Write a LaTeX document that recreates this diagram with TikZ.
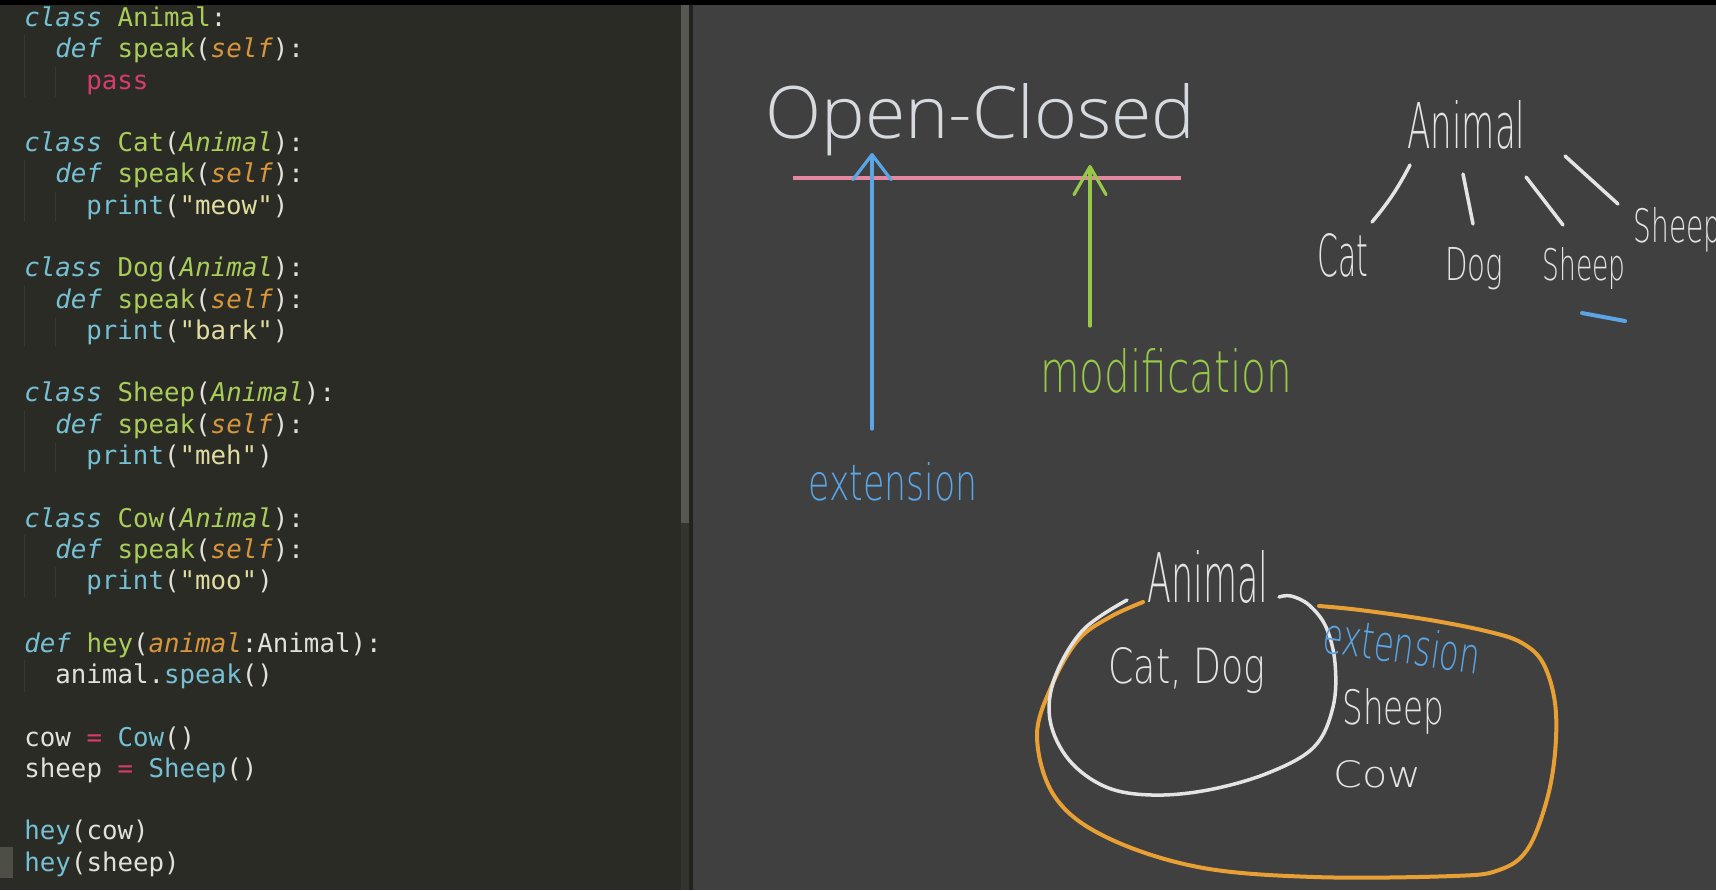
\documentclass[tikz,border=0pt]{standalone}
\usepackage{fontspec}
\setmonofont{DejaVu Sans Mono}
\newfontfamily\titlefont{Open Sans Light}
\newfontfamily\handfont{DejaVu Sans ExtraLight}
\usepackage{xcolor}
\usepackage{tikz}
\usetikzlibrary{arrows.meta,positioning}

\definecolor{editorbg}{RGB}{43,43,38}
\definecolor{boardbg}{RGB}{64,64,64}
\definecolor{scrollthumb}{RGB}{88,88,82}
\definecolor{scrolltrack}{RGB}{52,52,47}
\definecolor{panedark}{RGB}{34,34,31}
\definecolor{guidegrey}{RGB}{56,56,50}
\definecolor{cursorgrey}{RGB}{78,78,70}
\definecolor{kwblue}{RGB}{118,192,212}
\definecolor{namegreen}{RGB}{170,205,90}
\definecolor{selforange}{RGB}{215,150,60}
\definecolor{passpink}{RGB}{215,60,110}
\definecolor{stryellow}{RGB}{225,220,160}
\definecolor{codewhite}{RGB}{225,225,218}
\definecolor{titlegrey}{RGB}{214,218,222}
\definecolor{chalk}{RGB}{228,228,228}
\definecolor{penblue}{RGB}{90,165,230}
\definecolor{pengreen}{RGB}{152,200,72}
\definecolor{penorange}{RGB}{232,160,52}
\definecolor{penpink}{RGB}{228,135,160}

\newcommand{\codekw}[1]{{\color{kwblue}\itshape #1}}
\newcommand{\codename}[1]{{\color{namegreen}#1}}
\newcommand{\codeparent}[1]{{\color{namegreen}\itshape #1}}
\newcommand{\codeself}[1]{{\color{selforange}\itshape #1}}
\newcommand{\codepink}[1]{{\color{passpink}#1}}
\newcommand{\codecall}[1]{{\color{kwblue}#1}}
\newcommand{\codestr}[1]{{\color{stryellow}#1}}
\newcommand{\handfit}[3]{\resizebox{#1}{#2}{\handfont #3}}

\begin{document}
\begin{tikzpicture}[
  x=0.5pt, y=-0.5pt,
  codeline/.style={anchor=base west, inner sep=0pt,
    font=\ttfamily\fontsize{12.9}{15}\selectfont, text=codewhite},
  handbox/.style={anchor=base west, inner sep=0pt},
  chalkpen/.style={draw=chalk, line width=1.75pt, line cap=round, line join=round},
  bluepen/.style={draw=penblue, line width=1.6pt, line cap=round, line join=round},
  greenpen/.style={draw=pengreen, line width=1.6pt, line cap=round, line join=round},
  orangepen/.style={draw=penorange, line width=2pt, line cap=round, line join=round},
  pinkpen/.style={draw=penpink, line width=2.2pt}
]
\useasboundingbox (0,0) rectangle (1716,890);
\clip (0,0) rectangle (1716,890);

% editor and board panes
\fill[black] (0,0) rectangle (1716,890);
\fill[editorbg] (0,5) rectangle (681,890);
\fill[scrollthumb] (681,5) rectangle (689,523);
\fill[scrolltrack] (681,523) rectangle (689,890);
\fill[panedark] (689,5) rectangle (693,890);
\fill[boardbg] (693,5) rectangle (1716,890);
\fill[cursorgrey] (0,847) rectangle (13,878);

% indent guides
\foreach \b in {26.5,151.6,276.7,401.9,527.0} {
  \draw[guidegrey, line width=0.5pt] (24,\b+8) -- (24,\b+70);
  \draw[guidegrey, line width=0.5pt] (55,\b+40) -- (55,\b+70);
}
\draw[guidegrey, line width=0.5pt] (24,660) -- (24,692);

% code
\node[codeline] (ln1)  at (24,26.5)  {\codekw{class} \codename{Animal}:};
\node[codeline] (ln2)  at (55,57.8)  {\codekw{def} \codename{speak}(\codeself{self}):};
\node[codeline] (ln3)  at (86,89.1)  {\codepink{pass}};
\node[codeline] (ln5)  at (24,151.6) {\codekw{class} \codename{Cat}(\codeparent{Animal}):};
\node[codeline] (ln6)  at (55,182.9) {\codekw{def} \codename{speak}(\codeself{self}):};
\node[codeline] (ln7)  at (86,214.2) {\codecall{print}(\codestr{"meow"})};
\node[codeline] (ln9)  at (24,276.7) {\codekw{class} \codename{Dog}(\codeparent{Animal}):};
\node[codeline] (ln10) at (55,308.0) {\codekw{def} \codename{speak}(\codeself{self}):};
\node[codeline] (ln11) at (86,339.3) {\codecall{print}(\codestr{"bark"})};
\node[codeline] (ln13) at (24,401.9) {\codekw{class} \codename{Sheep}(\codeparent{Animal}):};
\node[codeline] (ln14) at (55,433.2) {\codekw{def} \codename{speak}(\codeself{self}):};
\node[codeline] (ln15) at (86,464.5) {\codecall{print}(\codestr{"meh"})};
\node[codeline] (ln17) at (24,527.0) {\codekw{class} \codename{Cow}(\codeparent{Animal}):};
\node[codeline] (ln18) at (55,558.3) {\codekw{def} \codename{speak}(\codeself{self}):};
\node[codeline] (ln19) at (86,589.6) {\codecall{print}(\codestr{"moo"})};
\node[codeline] (ln21) at (24,652.2) {\codekw{def} \codename{hey}(\codeself{animal}:Animal):};
\node[codeline] (ln22) at (55,683.5) {animal.\codecall{speak}()};
\node[codeline] (ln24) at (24,746.0) {cow \codepink{=} \codecall{Cow}()};
\node[codeline] (ln25) at (24,777.3) {sheep \codepink{=} \codecall{Sheep}()};
\node[codeline] (ln27) at (24,839.8) {\codecall{hey}(cow)};
\node[codeline] (ln28) at (24,871.1) {\codecall{hey}(sheep)};

% title and the closed line
\node[anchor=base west, inner sep=0pt, text=titlegrey] (title) at (765,138)
  {\resizebox{215pt}{27.5pt}{\titlefont Open-Closed}};
\coordinate (closedl) at (793,178);
\coordinate (closedr) at (1181,178);
\draw[pinkpen] (closedl) -- (closedr);

% extension / modification arrows
\node[handbox, text=penblue] (extlbl) at (808,500) {\handfit{84.5pt}{19pt}{extension}};
\node[handbox, text=pengreen] (modlbl) at (1040,392) {\handfit{126pt}{22pt}{modification}};
\coordinate (bluefoot) at (872,429);
\coordinate (bluetip) at (872,153);
\coordinate (greenfoot) at (1090,326);
\coordinate (greentip) at (1090,165);
\draw[bluepen, -{Straight Barb[length=12.5pt, width=19pt, round]}] (bluefoot) -- (bluetip);
\draw[greenpen, -{Straight Barb[length=14pt, width=16pt, round]}] (greenfoot) -- (greentip);

% class tree
\node[handbox, text=chalk] (treeanimal) at (1407,148) {\handfit{59pt}{24pt}{Animal}};
\node[handbox, text=chalk] (treecat) at (1317,276) {\handfit{25.5pt}{21.5pt}{Cat}};
\node[handbox, text=chalk] (treedog) at (1445,280) {\handfit{29pt}{16.5pt}{Dog}};
\node[handbox, text=chalk] (treesheep) at (1542,280) {\handfit{41.5pt}{16.5pt}{Sheep}};
\node[handbox, text=chalk] (treesheepb) at (1633,242) {\handfit{44pt}{17.5pt}{Sheep}};
\coordinate (br1a) at (1410,165); \coordinate (br1b) at (1372,222);
\coordinate (br2a) at (1463,174); \coordinate (br2b) at (1473,224);
\coordinate (br3a) at (1526,177); \coordinate (br3b) at (1563,225);
\coordinate (br4a) at (1565,156); \coordinate (br4b) at (1618,204);
\draw[chalkpen] (br1a) to[bend left=6] (br1b);
\draw[chalkpen] (br2a) -- (br2b);
\draw[chalkpen] (br3a) -- (br3b);
\draw[chalkpen] (br4a) -- (br4b);
\coordinate (markl) at (1582,313); \coordinate (markr) at (1625,321);
\draw[bluepen, line width=2pt] (markl) -- (markr);

% sets
\draw[orangepen] plot[smooth, tension=0.6] coordinates {
  (1143,602) (1110,617) (1078,640) (1052,685) (1037,737) (1055,797)
  (1106,837) (1198,867) (1314,877) (1453,876) (1499,870) (1527,850)
  (1546,803) (1555,753) (1555,703) (1543,663) (1522,643) (1490,632)
  (1430,620) (1360,610) (1319,606)};
\draw[chalkpen] plot[smooth, tension=0.6] coordinates {
  (1127,600) (1083,630) (1055,677) (1050,720) (1069,760) (1106,787)
  (1152,795) (1208,790) (1268,773) (1314,747) (1333,707) (1335,663)
  (1326,627) (1309,605) (1291,596) (1279,597)};
\node[handbox, text=chalk] (vennanimal) at (1147,602) {\handfit{60.5pt}{26pt}{Animal}};
\node[handbox, text=chalk] (venncatdog) at (1108,683) {\handfit{78.5pt}{18pt}{Cat, Dog}};
\node[handbox, text=penblue, rotate=-8] (vennext) at (1321,652) {\handfit{79pt}{19pt}{extension}};
\node[handbox, text=chalk] (vennsheep) at (1342,724) {\handfit{51pt}{18pt}{Sheep}};
\node[handbox, text=chalk] (venncow) at (1333,787) {\handfit{44pt}{13.5pt}{Cow}};
\end{tikzpicture}
\end{document}
